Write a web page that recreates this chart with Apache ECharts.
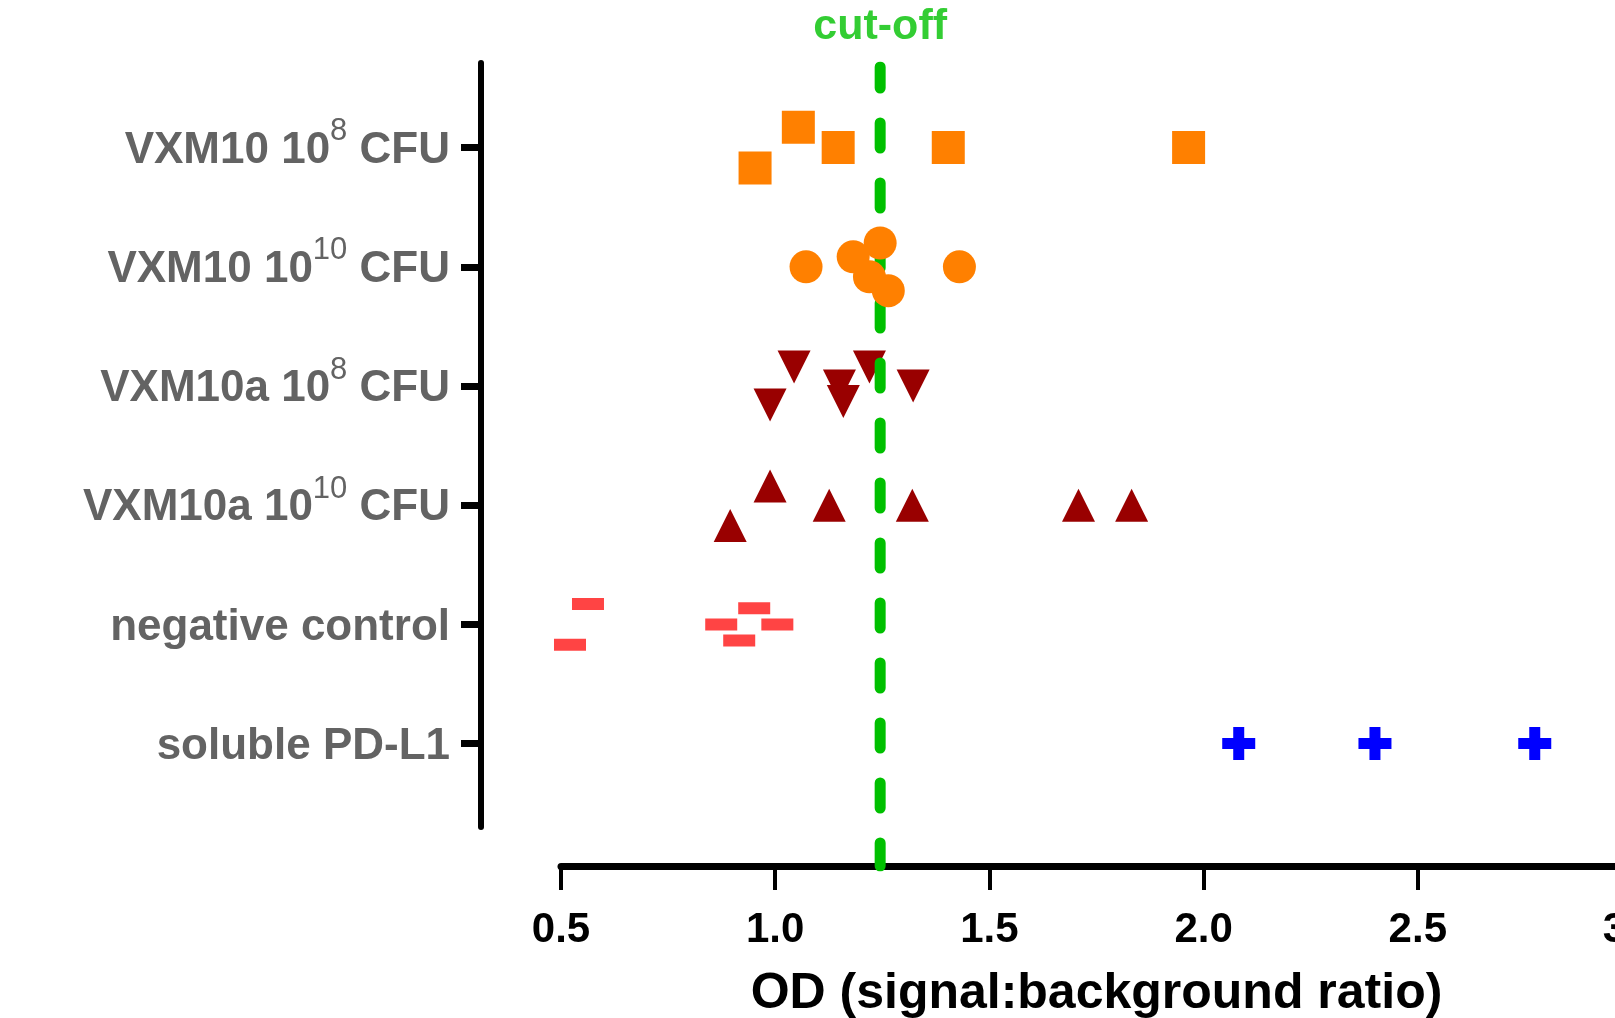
<!DOCTYPE html>
<html>
<head>
<meta charset="utf-8">
<script src="https://cdn.jsdelivr.net/npm/echarts@6/dist/echarts.min.js"></script>
<style>
  html, body { margin: 0; padding: 0; background: #fff; }
  #chart { width: 1615px; height: 1018px; }
</style>
</head>
<body>
<div id="chart"></div>
<script>
// category labels, top to bottom (main text, superscript, tail)
const labelMain = ['VXM10 10', 'VXM10 10', 'VXM10a 10', 'VXM10a 10', 'negative control', 'soluble PD-L1'];
const labelSup = ['8', '10', '8', '10', '', ''];
const labelTail = [' CFU', ' CFU', ' CFU', ' CFU', '', ''];
const rowIndex = [0, 1, 2, 3, 4, 5];

// OD values and the vertical scatter offset of each dot (in row units)
const odVxm10e8 = [0.953, 1.054, 1.147, 1.404, 1.965];
const jitVxm10e8 = [0.17, -0.17, 0, 0, 0];
const odVxm10e10 = [1.072, 1.182, 1.245, 1.220, 1.264, 1.430];
const jitVxm10e10 = [0, -0.084, -0.2, 0.084, 0.2, 0];
const odVxm10ae8 = [1.044, 1.150, 1.220, 1.322, 0.988, 1.159];
const jitVxm10ae8 = [-0.16, 0, -0.16, 0, 0.16, 0.13];
const odVxm10ae10 = [0.988, 1.126, 1.320, 0.895, 1.708, 1.832];
const jitVxm10ae10 = [-0.16, 0, 0, 0.17, 0, 0];
const odNegative = [0.563, 0.521, 0.951, 0.874, 1.005, 0.916];
const jitNegative = [-0.17, 0.17, -0.135, 0, 0, 0.135];
const odSoluble = [2.082, 2.400, 2.773];
const jitSoluble = [0, 0, 0];

const cutOff = 1.245;
const xTicks = [0.5, 3.0];

const FONT = '"Liberation Sans", Arial, Helvetica, sans-serif';
const GRAY = '#636363';

function pts(xs, jit, row) {
  return xs.map((x, i) => [x, row + jit[i]]);
}

function dots(name, xs, jit, row, symbol, size, color, rotate, z) {
  return {
    name: name,
    type: 'scatter',
    xAxisIndex: 0,
    yAxisIndex: 0,
    data: pts(xs, jit, row),
    symbol: symbol,
    symbolSize: size,
    symbolRotate: rotate || 0,
    itemStyle: { color: color, opacity: 1 },
    z: z || 2,
    silent: true
  };
}

const chart = echarts.init(document.getElementById('chart'));

const option = {
  backgroundColor: '#fff',
  animation: false,
  textStyle: { fontFamily: FONT },
  grid: [
    { left: 561, right: -17, top: 63, height: 764, outerBoundsMode: 'none', containLabel: false },
    { left: 561, right: -17, top: 67, height: 799, outerBoundsMode: 'none', containLabel: false }
  ],
  xAxis: [{
    type: 'value',
    gridIndex: 0,
    min: xTicks[0],
    max: xTicks[1],
    interval: 0.5,
    offset: 39,
    position: 'bottom',
    axisLine: { show: true, onZero: false, lineStyle: { color: '#000', width: 7 } },
    axisTick: { show: true, length: 24, lineStyle: { color: '#000', width: 4 } },
    axisLabel: {
      margin: 43, fontSize: 42, fontWeight: 'bold', color: '#000', fontFamily: FONT,
      formatter: v => v.toFixed(1)
    },
    splitLine: { show: false },
    name: 'OD (signal:background ratio)',
    nameLocation: 'middle',
    nameGap: 103,
    nameTextStyle: { fontSize: 50, fontWeight: 'bold', color: '#000', fontFamily: FONT }
  }, {
    type: 'value', gridIndex: 1, min: xTicks[0], max: xTicks[1], show: false
  }],
  yAxis: [{
    type: 'value',
    gridIndex: 0,
    inverse: true,
    min: -0.71,
    max: 5.7,
    offset: 80,
    position: 'left',
    splitLine: { show: false },
    axisLine: { show: true, onZero: false, lineStyle: { color: '#000', width: 6 } },
    axisTick: { show: true, length: 20, customValues: rowIndex, lineStyle: { color: '#000', width: 7 } },
    axisLabel: {
      customValues: rowIndex,
      margin: 31,
      fontSize: 44,
      fontWeight: 'bold',
      color: GRAY,
      fontFamily: FONT,
      formatter: function (v) {
        const i = Math.round(v);
        let s = '{m|' + labelMain[i] + '}';
        if (labelSup[i]) s += '{s|' + labelSup[i] + '}{m|' + labelTail[i] + '}';
        return s;
      },
      rich: {
        m: { fontSize: 44, fontWeight: 'bold', color: GRAY, fontFamily: FONT, lineHeight: 50, padding: [6, 0, 0, 0] },
        s: { fontSize: 31, fontWeight: 'normal', color: GRAY, fontFamily: FONT, lineHeight: 31, padding: [0, 0, 32, 0] }
      }
    }
  }, {
    type: 'value', gridIndex: 1, min: 0, max: 1, show: false
  }],
  series: [
    {
      name: 'cut-off line',
      type: 'line',
      xAxisIndex: 1,
      yAxisIndex: 1,
      data: [[cutOff, 1], [cutOff, 0]],
      symbol: 'none',
      lineStyle: { color: '#00C000', width: 11, type: [25, 35], dashOffset: 4, cap: 'round' },
      z: 3,
      silent: true
    },
    {
      name: 'cut-off label',
      type: 'scatter',
      xAxisIndex: 1,
      yAxisIndex: 1,
      data: [[cutOff, 1]],
      symbolSize: 1,
      itemStyle: { color: 'rgba(0,0,0,0)' },
      label: {
        show: true, position: 'top', distance: 18, formatter: 'cut-off',
        fontSize: 43, fontWeight: 'bold', color: '#00C000', fontFamily: FONT
      },
      silent: true
    },
    dots('VXM10 10^8 CFU', odVxm10e8, jitVxm10e8, 0, 'rect', 33, '#FF8000'),
    dots('VXM10 10^10 CFU', odVxm10e10, jitVxm10e10, 1, 'circle', 33, '#FF8000', 0, 4),
    dots('VXM10a 10^8 CFU', odVxm10ae8, jitVxm10ae8, 2, 'triangle', 33, '#990000', 180),
    dots('VXM10a 10^10 CFU', odVxm10ae10, jitVxm10ae10, 3, 'triangle', 33, '#990000'),
    dots('negative control', odNegative, jitNegative, 4, 'rect', [32, 12], '#FF4444'),
    dots('soluble PD-L1', odSoluble, jitSoluble, 5,
      'path://M4,0h4v4h4v4h-4v4h-4v-4h-4v-4h4z', 33, '#0000FF')
  ]
};

chart.setOption(option);
</script>
</body>
</html>
